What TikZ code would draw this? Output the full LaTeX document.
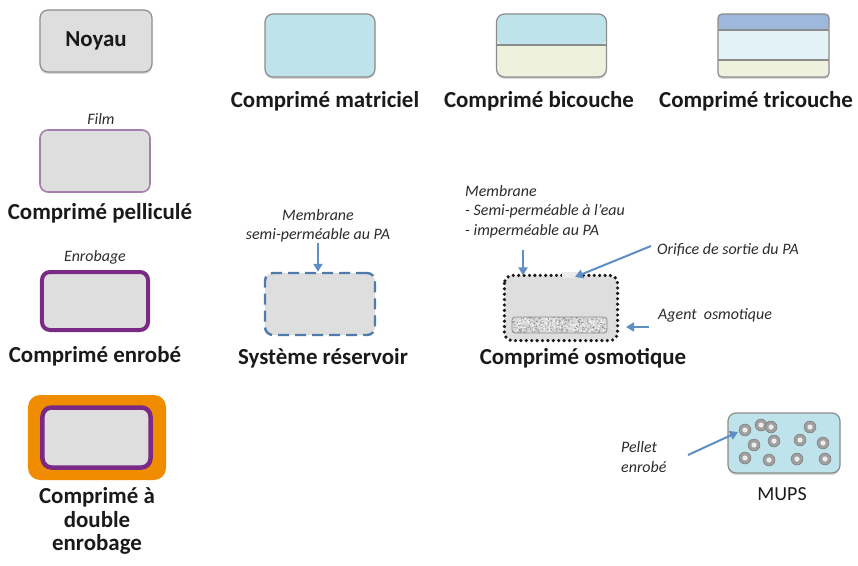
\documentclass[tikz,border=0pt]{standalone}
\usepackage{fontspec}
\setmainfont{Carlito}
\usetikzlibrary{arrows.meta,shadows,calc}
\definecolor{coregray}{HTML}{DEDEDE}
\definecolor{edgegray}{HTML}{8C8C8C}
\definecolor{lblue}{HTML}{BFE3EA}
\definecolor{beige}{HTML}{EEF1DE}
\definecolor{dblue}{HTML}{9DB7DD}
\definecolor{pale}{HTML}{E2F2F6}
\definecolor{filmpurple}{HTML}{A67FAE}
\definecolor{purpletwo}{HTML}{7A2A84}
\definecolor{orangetwo}{HTML}{F08C00}
\definecolor{dashblue}{HTML}{4F7AAA}
\definecolor{arrowblue}{HTML}{5E8FC4}
\definecolor{txt}{HTML}{1A1A1A}
\begin{document}
\begin{tikzpicture}[x=1bp,y=-1bp,
  tab/.style={rectangle, rounded corners=8bp, draw=edgegray, line width=1.2bp,
    minimum width=110bp, minimum height=62bp, inner sep=0pt},
  shad/.style={drop shadow={shadow xshift=0bp, shadow yshift=-2bp, opacity=0.25, fill=black!60}},
  lab/.style={font=\fontsize{23}{25}\selectfont\bfseries, text=txt, inner sep=0pt},
  note/.style={font=\fontsize{16}{19.5}\selectfont\itshape, text=txt!92, inner sep=0pt},
  arr/.style={draw=arrowblue, line width=2bp, -{Triangle[length=8bp,width=9bp]}},
  pellet/.style={fill=gray!75, draw=gray!90!black, line width=0.4bp}]
\useasboundingbox[fill=white] (0,0) rectangle (858,566);

% Noyau
\node[tab, fill=coregray, shad, minimum width=112bp, minimum height=62bp] (noyau) at (96,41) {};
\node[lab] (noyaulbl) at (noyau.center) {Noyau};

% Film
\node[note] (filmlbl) at (101,119) {Film};
\node[tab, fill=coregray, draw=filmpurple, line width=1.6bp] (film) at (95,161) {};
\node[lab] (pellicule) at (100,213) {Comprimé pelliculé};

% Enrobage
\node[note] (enroblbl) at (95,257) {Enrobage};
\node[tab, fill=coregray, draw=purpletwo, line width=4bp, minimum width=106bp, minimum height=58bp] (enrob) at (95,301) {};
\node[lab] (enrobe) at (95,356) {Comprimé enrobé};

% Double enrobage
\node[rectangle, rounded corners=12bp, fill=orangetwo, minimum width=138bp, minimum height=85bp, inner sep=0pt] (double) at (97,437.5) {};
\node[tab, fill=coregray, draw=purpletwo, line width=4.5bp, minimum width=108bp, minimum height=60bp, rounded corners=9bp] (doublein) at (96.5,437.5) {};
\node[lab, align=center, font=\fontsize{23}{23.5}\selectfont\bfseries] (doublelbl) at (97,521) {Comprimé à\\double\\enrobage};

% Matriciel
\node[tab, fill=lblue, shad, minimum width=110bp, minimum height=63bp] (matr) at (320,45.5) {};
\node[lab] (matrlbl) at (325,101) {Comprimé matriciel};

% Bicouche
\node[tab, fill=beige, shad, minimum width=110bp, minimum height=63bp,
  path picture={
    \fill[lblue] (path picture bounding box.north west) rectangle ([yshift=-31bp]path picture bounding box.north east);
    \draw[edgegray, line width=1.2bp] ([yshift=-31bp]path picture bounding box.north west) -- ([yshift=-31bp]path picture bounding box.north east);
  }] (bi) at (551.5,45.5) {};
\node[lab] (bilbl) at (539,101) {Comprimé bicouche};

% Tricouche
\node[tab, fill=beige, shad, rounded corners=4bp, minimum width=111bp, minimum height=63bp,
  path picture={
    \fill[pale] (path picture bounding box.north west) rectangle ([yshift=-46bp]path picture bounding box.north east);
    \fill[dblue] (path picture bounding box.north west) rectangle ([yshift=-16bp]path picture bounding box.north east);
    \draw[edgegray, line width=1.2bp] ([yshift=-16bp]path picture bounding box.north west) -- ([yshift=-16bp]path picture bounding box.north east);
    \draw[edgegray, line width=1.2bp] ([yshift=-46bp]path picture bounding box.north west) -- ([yshift=-46bp]path picture bounding box.north east);
  }] (tri) at (773.5,45.5) {};
\node[lab] (trilbl) at (756,101) {Comprimé tricouche};

% Systeme reservoir
\node[note, align=center] (memres) at (318,226) {Membrane\\semi-perméable au PA};
\node[tab, fill=coregray, draw=dashblue, line width=2.4bp, dash pattern=on 11bp off 6bp] (res) at (320,304) {};
\draw[arr] (memres.south) -- (memres.south |- res.north);
\node[lab] (reslbl) at (323,358) {Système réservoir};

% Comprime osmotique
\node[tab, fill=coregray, draw=none, minimum width=112bp, minimum height=64bp] (osm) at (561,308) {};
\node[rectangle, rounded corners=3bp, draw=edgegray, line width=0.8bp, fill=gray!30, minimum width=95bp, minimum height=16bp, inner sep=0pt,
  path picture={
    \pgfmathsetseed{7}
    \foreach \i in {1,...,260}{
      \fill[black!55, opacity=0.55] ($(path picture bounding box.center)+(rand*48, rand*8)$) circle (0.8bp);
    }
    \foreach \i in {1,...,120}{
      \fill[white, opacity=0.8] ($(path picture bounding box.center)+(rand*48, rand*8)$) circle (0.9bp);
    }
  }] (agent) at (559.5,325) {};
\draw[black!90, line width=3.6bp, line cap=round, dash pattern=on 0bp off 5.4bp, rounded corners=8bp]
  (osm.north west) rectangle (osm.south east);
% orifice: gap in the membrane
\fill[coregray!60!white] ($(osm.north)+(1,-3)$) rectangle ($(osm.north)+(22,3)$);
\node[note, align=left, anchor=north west] (memosm) at (465,185) {Membrane\\- Semi-perméable à l'eau\\- imperméable au PA};
\coordinate (memtip) at (523,250);
\draw[arr] (memtip) -- (memtip |- osm.north);
\node[note, anchor=west] (orifice) at (657,250) {Orifice de sortie du PA};
\coordinate (orifstart) at (651,246);
\coordinate (orifend) at (575,277);
\draw[arr] (orifstart) -- (orifend);
\node[note, anchor=west] (agentlbl) at (658,315) {Agent~~osmotique};
\coordinate (agentstart) at (649,327);
\coordinate (agentend) at (626,327);
\draw[arr] (agentstart) -- (agentend);
\node[lab] (osmlbl) at (583,358) {Comprimé osmotique};

% MUPS
\node[tab, fill=lblue, shad, minimum width=112bp, minimum height=60bp] (mups) at (784,443) {};
\foreach \px/\py in {745/430,761/425,771/427,810/427,754/445,774/441,800/440,823/443,745/458,769/460,797/459,825/459}{
  \fill[pellet] (\px,\py) circle (6bp);
  \fill[gray!15] (\px,\py) circle (2.6bp);
}
\node[lab, font=\fontsize{20}{24}\selectfont] (mupslbl) at (782,494) {MUPS};
\node[note, align=left, anchor=west] (pelletlbl) at (621,457) {Pellet\\enrobé};
\coordinate (pelletstart) at (688,455);
\coordinate (pelletend) at (738,432);
\draw[arr] (pelletstart) -- (pelletend);
\end{tikzpicture}
\end{document}
